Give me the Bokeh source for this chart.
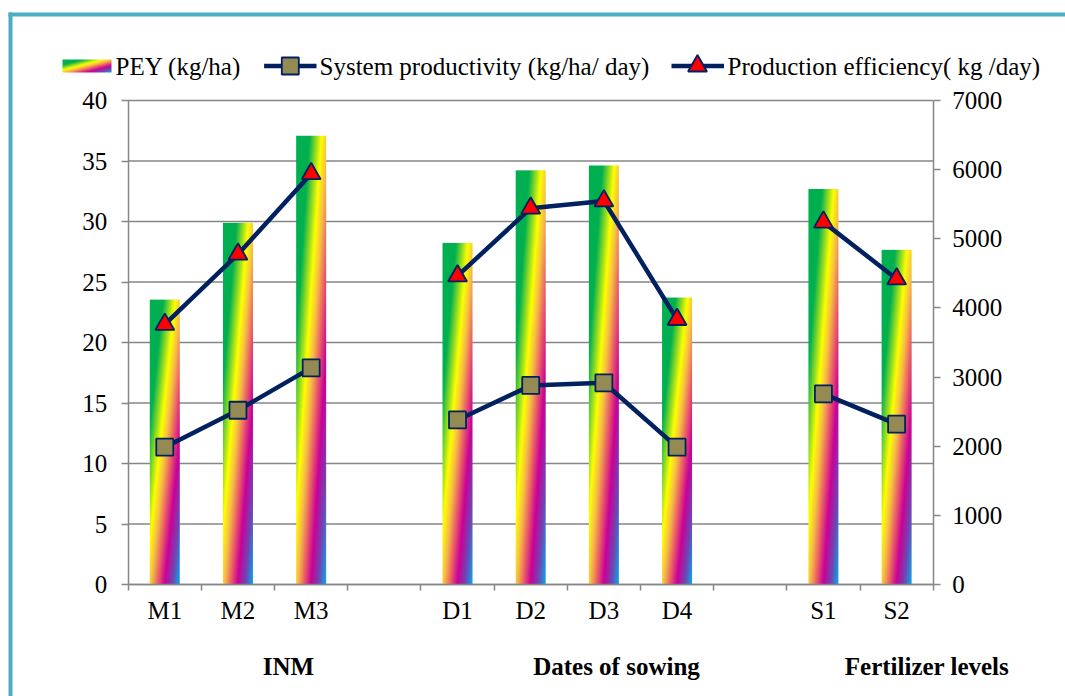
import numpy as np
from bokeh.plotting import figure
from bokeh.models import Range1d, LinearAxis, FixedTicker
from bokeh.embed import file_html
from bokeh.resources import INLINE
from bokeh.core.properties import value

# ---------------- data ----------------
slots = ["M1", "M2", "M3", "", "D1", "D2", "D3", "D4", "", "S1", "S2"]
categories = ["M1", "M2", "M3", "D1", "D2", "D3", "D4", "S1", "S2"]
category_group = ["INM", "INM", "INM", "Dates of sowing", "Dates of sowing",
                  "Dates of sowing", "Dates of sowing", "Fertilizer levels", "Fertilizer levels"]
groups = ["INM", "Dates of sowing", "Fertilizer levels"]
pey = [4120, 5230, 6490, 4940, 5990, 6060, 4150, 5720, 4840]                     # kg/ha (right axis)
system_productivity = [11.35, 14.4, 17.9, 13.6, 16.45, 16.67, 11.35, 15.76, 13.25]  # left axis
production_efficiency = [21.5, 27.3, 33.95, 25.5, 31.1, 31.7, 21.9, 29.95, 25.25]  # left axis
left_ticks = [0, 5, 10, 15, 20, 25, 30, 35, 40]
right_ticks = [0, 1000, 2000, 3000, 4000, 5000, 6000, 7000]
legend_labels = ["PEY (kg/ha)", "System productivity (kg/ha/ day)", "Production efficiency( kg /day)"]

# ---------------- style / layout (pixels) ----------------
W, H = 1065, 696
FL, FR, FT, FB = 127.7, 932.7, 100.0, 584.0   # plot area edges in canvas pixels
LMAX, RMAX = 40, 7000
FONT = "Liberation Serif"
FS = "25px"
GREY = "#868686"
NAVY = "#002060"
TEAL = "#4BACC6"
BAR_W = 0.41
group_label_px = [288, 616, 926.5]
GROUP_Y = 665.5
LEG_Y = 65.5

NS = len(slots)
UW = (FR - FL) / NS
UH = (FB - FT) / LMAX


def dx(px):
    return (px - FL) / UW


def dy(py):
    return (FB - py) / UH


stops_t = [0.0, 0.22, 0.42, 0.52, 0.62, 0.74, 0.87, 1.0]
stops_rgb = [(0, 176, 80), (0, 176, 80), (255, 255, 0), (247, 190, 70),
             (236, 100, 100), (204, 0, 153), (112, 70, 180), (0, 176, 240)]


def gradient(w, h):
    xf = (np.arange(w) + 0.5) / w
    yd = 1 - (np.arange(h) + 0.5) / h  # row 0 is the bottom
    t = (xf[None, :] + yd[:, None]) / 2
    img = np.empty((h, w), dtype=np.uint32)
    view = img.view(dtype=np.uint8).reshape((h, w, 4))
    for c in range(3):
        view[:, :, c] = np.interp(t, stops_t, [s[c] for s in stops_rgb]).astype(np.uint8)
    view[:, :, 3] = 255
    return img


pos = [slots.index(c) + 0.5 for c in categories]

p = figure(width=W, height=H, x_range=Range1d(dx(0), dx(W)), y_range=Range1d(dy(H), dy(0)),
           output_backend="svg", toolbar_location=None, min_border=0,
           min_border_left=0, min_border_right=0, min_border_top=0, min_border_bottom=0)
p.outline_line_color = None
p.background_fill_color = "white"
p.border_fill_color = "white"
p.extra_y_ranges = {"right": Range1d(dy(H) * RMAX / LMAX, dy(0) * RMAX / LMAX)}
p.xgrid.visible = False
p.ygrid.visible = False

# teal frame of the picture
p.segment(x0=[dx(10), dx(8)], y0=[dy(12), dy(14)], x1=[dx(10), dx(W)], y1=[dy(H), dy(14)],
          line_color=TEAL, line_width=4)

# horizontal grid lines at the left-axis ticks
p.segment(x0=[0] * len(left_ticks), y0=left_ticks, x1=[NS] * len(left_ticks), y1=left_ticks,
          line_color=GREY, line_width=1.5)

# bars with gradient fill (right axis)
for x, v in zip(pos, pey):
    hpx = max(2, int(round(v / RMAX * (FB - FT))) * 2)
    p.image_rgba(image=[gradient(60, hpx)], x=x - BAR_W / 2, y=0, dw=BAR_W, dh=v,
                 y_range_name="right")

# lines per group (left axis)
for g in groups:
    idx = [i for i, cg in enumerate(category_group) if cg == g]
    xs = [pos[i] for i in idx]
    p.line(xs, [system_productivity[i] for i in idx], line_color=NAVY, line_width=4.5)
    p.line(xs, [production_efficiency[i] for i in idx], line_color=NAVY, line_width=4.5)
p.scatter(pos, system_productivity, marker="square", size=17, fill_color="#948A54",
          line_color=NAVY, line_width=1.8)
p.scatter(pos, production_efficiency, marker="triangle", size=19, fill_color="#FF0000",
          line_color=NAVY, line_width=1.8)

# axes
yl = p.yaxis[0]
yl.ticker = FixedTicker(ticks=left_ticks)
yl.fixed_location = 0
yl.bounds = (0, LMAX)

yr = LinearAxis(y_range_name="right", ticker=FixedTicker(ticks=right_ticks),
                fixed_location=NS, bounds=(0, RMAX))
p.add_layout(yr, "right")

xa = p.xaxis[0]
xa.ticker = FixedTicker(ticks=pos, minor_ticks=list(range(NS + 1)))
xa.major_label_overrides = {x: c for x, c in zip(pos, categories)}
xa.fixed_location = 0
xa.bounds = (0, NS)
xa.major_tick_out = 0
xa.major_tick_in = 0
xa.minor_tick_out = 6
xa.minor_tick_in = 0
xa.major_label_standoff = 6

for ax in (yl, yr):
    ax.major_tick_out = 7
    ax.major_tick_in = 0
    ax.minor_tick_out = 0
    ax.minor_tick_in = 0
yl.major_label_standoff = 14
yr.major_label_standoff = 12

for ax in (xa, yl, yr):
    ax.axis_line_color = GREY
    ax.axis_line_width = 1.5
    ax.major_tick_line_color = GREY
    ax.major_tick_line_width = 1.5
    ax.minor_tick_line_color = GREY
    ax.minor_tick_line_width = 1.5
    ax.major_label_text_font = FONT
    ax.major_label_text_font_size = FS
    ax.major_label_text_color = "black"

# group labels
p.text(x=[dx(v) for v in group_label_px], y=[dy(GROUP_Y)] * len(groups), text=groups,
       text_font=value(FONT), text_font_size=FS, text_font_style="bold",
       text_align="center", text_baseline="middle", text_color="black")

# legend (drawn at the top of the canvas)
ly = dy(LEG_Y)
p.image_rgba(image=[gradient(98, 26)], x=dx(62), y=dy(72), dw=49 / UW, dh=13 / UH)
p.line([dx(263.6), dx(316)], [ly, ly], line_color=NAVY, line_width=4.5)
p.scatter([dx(289.8)], [ly], marker="square", size=17, fill_color="#948A54", line_color=NAVY, line_width=1.8)
p.line([dx(671), dx(723.5)], [ly, ly], line_color=NAVY, line_width=4.5)
p.scatter([dx(697)], [ly], marker="triangle", size=19, fill_color="#FF0000", line_color=NAVY, line_width=1.8)
p.text(x=[dx(115), dx(319), dx(727)], y=[ly] * 3, text=legend_labels, text_font=value(FONT),
       text_font_size=FS, text_baseline="middle", text_align="left", text_color="black")

open("out.html", "w").write(file_html(p, INLINE))
